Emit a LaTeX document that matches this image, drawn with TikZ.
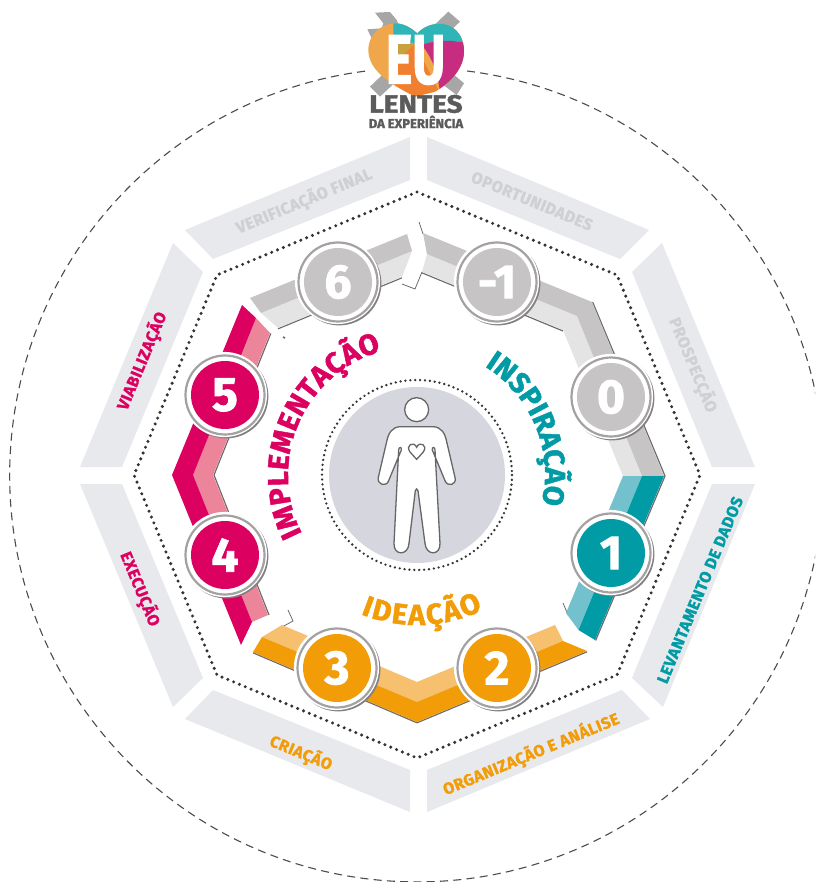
\documentclass[tikz,border=0pt]{standalone}
\usepackage{fontspec}
\setmainfont{Fira Sans}[BoldFeatures={FakeBold=1.6}]
\newfontfamily\din[LetterSpace=3,BoldFeatures={FakeBold=1.2}]{Fira Sans}
\usetikzlibrary{decorations.text,calc}
\definecolor{bandc}{HTML}{E8E9ED}
\definecolor{bandt}{HTML}{CFD0D2}
\definecolor{gd}{HTML}{C6C4C5}
\definecolor{gp}{HTML}{E4E4E4}
\definecolor{pd}{HTML}{DC0060}
\definecolor{pp}{HTML}{EC8599}
\definecolor{od}{HTML}{F29C07}
\definecolor{op}{HTML}{F6C06F}
\definecolor{td}{HTML}{009BA4}
\definecolor{tp}{HTML}{72C1CC}
\definecolor{shad}{HTML}{6E6A6B}
\definecolor{ring}{HTML}{A3A1A2}
\definecolor{disc}{HTML}{D6D7DE}
\definecolor{logog}{HTML}{5B5B5B}
\definecolor{lgo}{HTML}{F0A64A}
\definecolor{lgd}{HTML}{F08030}
\definecolor{lgy}{HTML}{C7A23F}
\definecolor{lgt}{HTML}{2FB4B8}
\definecolor{lgm}{HTML}{C62C80}
\tikzset{
  band/.style={fill=bandc,draw=none},
  bandlabel/.style={font=\din\bfseries\fontsize{16.1}{17}\selectfont,inner sep=0pt},
  edgeshadow/.style={draw=shad,line width=1.2pt},
  thinshadow/.style={draw=shad,line width=.8pt},
  badge/.style={circle,draw=none,inner sep=0pt,minimum size=68pt,text=white,font=\bfseries\fontsize{48}{48}\selectfont}
}
\newcommand\badgeat[4]{% name, x,y, colour, label
  \fill[shad!85] ($(#2)+(1.2,1.2)$) circle[radius=42.2];
  \fill[white] ($(#2)+(-.5,-.5)$) circle[radius=42.6];
  \draw[ring,line width=2.2pt] (#2) circle[radius=39.5];
  \node[badge,fill=#3] (#1) at (#2) {#4};
}
\begin{document}
\begin{tikzpicture}[x=1pt,y=-1pt]
\useasboundingbox (0,0) rectangle (815,882);
\fill[white] (0,0) rectangle (815,882);
% dashed circle
\begin{scope}
\clip (0,0) rectangle (815,882);
\draw[line width=1.1pt,draw=black!70,dash pattern=on 8pt off 5.3pt] (467,71) arc[start angle=-82.9,end angle=262.9,radius=407];
\end{scope}
% bands
\fill[band] (185,230)--(213,259)--(410,180)--(410,137)--cycle;
\fill[band] (649,230)--(620,259)--(427,180)--(427,137)--cycle;
\fill[band] (662,243)--(632,272)--(712,467)--(755,467)--cycle;
\fill[band] (755,484)--(712,484)--(632,678)--(663,707)--cycle;
\fill[band] (650,719)--(622,690)--(427,770)--(427,812)--cycle;
\fill[band] (410,812)--(410,770)--(213,690)--(185,719)--cycle;
\fill[band] (173,707)--(203,678)--(122,484)--(80,484)--cycle;
\fill[band] (80,467)--(122,467)--(203,272)--(173,243)--cycle;
\node[bandlabel,text=bandt,rotate=22.5] (tverif) at (304,201) {VERIFICAÇÃO FINAL};
\node[bandlabel,text=bandt,rotate=-22.5] (toport) at (532,201) {OPORTUNIDADES};
\node[bandlabel,text=bandt,rotate=-67.5] (tprosp) at (693,365) {PROSPECÇÃO};
\node[bandlabel,text=td,rotate=67.5] (tlevan) at (700,590) {LEVANTAMENTO DE DADOS};
\node[bandlabel,text=od,rotate=22.5] (torgan) at (531,754) {ORGANIZAÇÃO E ANÁLISE};
\node[bandlabel,text=od,rotate=-22.5] (tcriac) at (301,753) {CRIAÇÃO};
\node[bandlabel,text=pd,rotate=-67.5] (texecu) at (140,589) {EXECUÇÃO};
\node[bandlabel,text=pd,rotate=67.5] (tviabi) at (142,361) {VIABILIZAÇÃO};
% dotted octagon
\draw[line width=3.4pt,line cap=round,dash pattern=on 0pt off 6.3pt,draw=black!80]
 (417,192)--(617,275)--(700,475)--(617,675)--(417,758)--(217,675)--(134,475)--(217,275)--cycle;
% ribbon shadows
\draw[edgeshadow] (422,272.8)--(563,331);
\draw[edgeshadow] (592.6,302)--(665,476);
\draw[edgeshadow] (278,328.8)--(402,277.8);
\draw[edgeshadow] (270.8,333.5)--(214,475)--(269,615);
\draw[edgeshadow] (665,476)--(595.6,640.5);
\draw[edgeshadow] (253,652.8)--(417,722.8)--(587,651.8);
\draw[thinshadow] (419,222)--(423,234);
\draw[thinshadow] (422,272)--(415,289)--(402,284);
\draw[thinshadow] (288,610)--(293,621)--(282,627);
\draw[thinshadow] (563,603)--(568,615);
\draw[line width=1.6pt,draw=shad] (283,337)--(285,338);
% gray right piece
\fill[gp] (422,272)--(563,330)--(623,476)--(642,476)--(577,316)--(427,254)--cycle;
\fill[gd] (427,254)--(577,316)--(642,476)--(664,476)--(592,302)--(423,233)--cycle;
% gray left piece
\fill[gp] (278,328)--(402,277)--(412,251)--(261,313)--cycle;
\fill[gd] (261,313)--(412,251)--(407,234)--(250,298)--cycle;
% pink
\fill[pp] (256,318)--(193,475)--(252,622)--(268,615)--(213,475)--(270,333)--cycle;
\fill[pd] (242,305)--(172,475)--(241,645)--(252,622)--(193,475)--(256,318)--cycle;
% teal
\fill[tp] (623,476)--(642,476)--(578.5,630)--(566,613)--cycle;
\fill[td] (642,476)--(664,476)--(595,640)--(578.5,630)--cycle;
% orange
\fill[op] (282,625)--(417,682)--(555,625)--(563,641)--(417,702)--(262,637)--cycle;
\fill[od] (262,637)--(417,702)--(563,641)--(587,651)--(417,722)--(253,652)--cycle;
% badges
\badgeat{n6}{338,282}{gd}{6}
\badgeat{nm}{497,282}{gd}{-1}
\badgeat{n0}{611,397}{gd}{0}
\badgeat{n1}{611,553}{td}{1}
\badgeat{n2}{497,668}{od}{2}
\badgeat{n3}{337,668}{od}{3}
\badgeat{n4}{225,555}{pd}{4}
\badgeat{n5}{225,395}{pd}{5}
% curved titles
\path[decorate,decoration={text along path,text align={fit to path},
  text={|\bfseries\fontsize{29}{29}\selectfont\color{pd}|IMPLEMENTAÇÃO}}]
  (302.1,533.6) arc[start angle=153,end angle=254,radius=129];
\path[decorate,decoration={text along path,text align={fit to path},
  text={|\bfseries\fontsize{29}{29}\selectfont\color{td}|INSPIRAÇÃO}}]
  (484.8,366.4) arc[start angle=-58,end angle=12,radius=128];
\path[decorate,decoration={text along path,text align={fit to path},
  text={|\bfseries\fontsize{29}{29}\selectfont\color{od}|IDEAÇÃO}}]
  (360.8,614.1) arc[start angle=112,end angle=64,radius=150];
% centre
\fill[disc] (417,475) circle[radius=88];
\draw[line width=2.6pt,line cap=round,dash pattern=on 0pt off 4.9pt,draw=black!80] (417,475) circle[radius=95];
\begin{scope}[shift={(310,370)},x=.3333pt,y=-.3333pt,draw=black!60,line width=1.3pt,fill=white]
 \filldraw (320,119) circle[radius=36];
 \filldraw (320,170) -- (270,170) .. controls (245,172) and (235,190) .. (230,215)
  -- (205,322) .. controls (200,345) and (230,352) .. (236,332)
  -- (274,240) .. controls (276,230) and (266,230) .. (266,240)
  -- (252,520) .. controls (250,558) and (295,558) .. (297,520)
  -- (316,362) .. controls (317,355) and (323,355) .. (324,362)
  -- (345,520) .. controls (348,558) and (392,558) .. (390,520)
  -- (375,240) .. controls (375,230) and (365,230) .. (367,240)
  -- (405,332) .. controls (412,352) and (442,345) .. (435,322)
  -- (410,215) .. controls (405,190) and (395,172) .. (370,170) -- cycle;
 \filldraw (320,268) -- (300,246) .. controls (285,225) and (312,212) .. (320,232)
  .. controls (328,212) and (355,225) .. (340,246) -- cycle;
\end{scope}
% logo
\begin{scope}[shift={(340,0)},x=.3333pt,y=-.3333pt]
 \fill[black!35] (325,35)--(360,65)--(120,290)--(90,260)--cycle;
 \fill[black!35] (105,38)--(150,36)--(170,60)--(180,85)--(372,250)--(350,285)--(150,135)--(100,125)--(82,88)--(125,85)--(130,70)--cycle;
 \begin{scope}
  \clip (225,290) .. controls (170,260) and (85,220) .. (85,150)
   .. controls (85,100) and (130,68) .. (170,70)
   .. controls (195,72) and (215,85) .. (232,100)
   .. controls (250,80) and (280,68) .. (310,72)
   .. controls (350,78) and (375,115) .. (372,160)
   .. controls (368,215) and (320,255) .. (285,275) -- (225,290) -- cycle;
  \fill[lgo] (60,40) rectangle (400,300);
  \fill[lgd] (165,190)--(225,130)--(300,280)--(225,300)--(150,250)--cycle;
  \fill[lgy] (165,130)--(225,130)--(165,190)--cycle;
  \fill[lgt] (160,60)--(330,60)--(380,130)  .. controls (320,115) and (270,125) .. (245,135) -- (160,115) -- cycle;
  \fill[lgm] (245,135) .. controls (270,125) and (320,115) .. (380,130) -- (380,300) -- (300,280) .. controls (295,220) and (275,170) .. (245,135) -- cycle;
 \end{scope}
\end{scope}
\node[text=white,font=\bfseries\fontsize{70}{70}\selectfont,inner sep=0pt,xscale=.72] (eu) at (415.5,60) {EU};
\node[text=logog,font=\bfseries\fontsize{25}{25}\selectfont,inner sep=0pt,xscale=1.12] (lentes) at (416,104) {LENTES};
\node[text=logog,font=\bfseries\fontsize{13}{13}\selectfont,inner sep=0pt] (daexp) at (416,122) {DA EXPERIÊNCIA};
\end{tikzpicture}
\end{document}
